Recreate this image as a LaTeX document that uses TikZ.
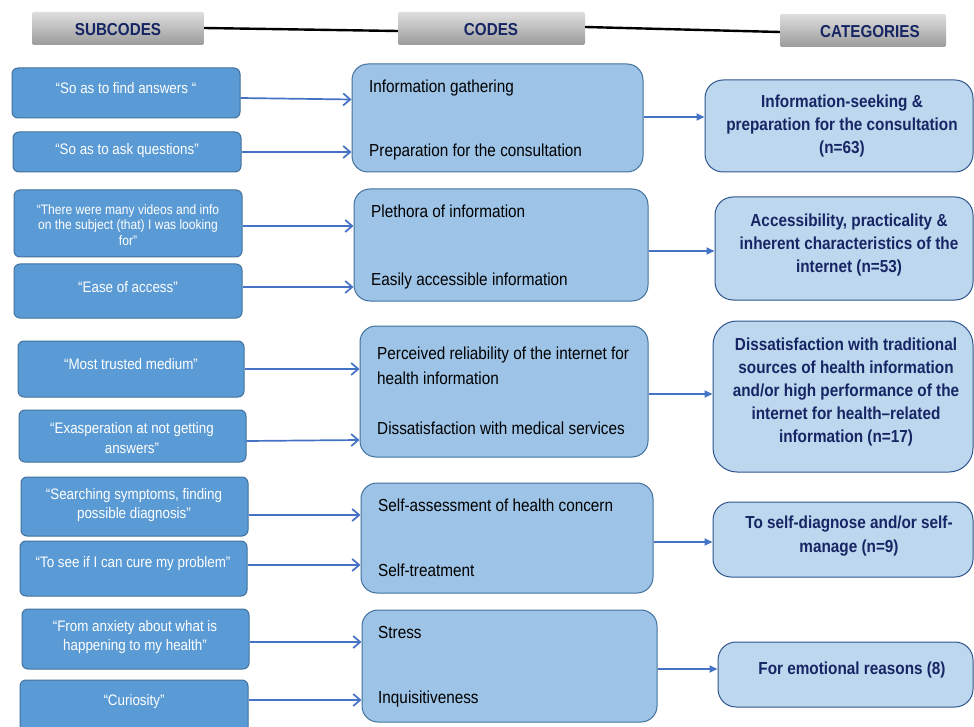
\documentclass[tikz,border=0pt]{standalone}
\usepackage{fontspec}
\setmainfont{Liberation Sans}[FakeStretch=0.88]
\usetikzlibrary{arrows.meta,fit}

\definecolor{subfill}{RGB}{91,155,213}
\definecolor{subline}{RGB}{65,113,156}
\definecolor{codefill}{RGB}{157,195,230}
\definecolor{catfill}{RGB}{189,215,238}
\definecolor{catline}{RGB}{47,85,140}
\definecolor{arrblue}{RGB}{68,114,196}
\definecolor{navy}{RGB}{22,38,100}
\definecolor{hdrtop}{RGB}{222,222,222}
\definecolor{hdrbot}{RGB}{155,155,155}

\begin{document}
\begin{tikzpicture}[x=1pt,y=-1pt,
  subbox/.style={draw=subline, fill=subfill, rounded corners=6pt, line width=1pt, inner sep=0pt},
  codebox/.style={draw=subline, fill=codefill, rounded corners=16pt, line width=1pt, inner sep=0pt},
  catbox/.style={draw=catline, fill=catfill, rounded corners=18pt, line width=1pt, inner sep=0pt},
  subtxt/.style={text=white, align=center, font=\fontsize{15.2}{19.5}\selectfont, inner sep=0pt},
  codetxt/.style={anchor=base west, font=\fontsize{17.4}{20}\selectfont, inner sep=0pt},
  cattxt/.style={text=navy, align=center, font=\bfseries\fontsize{17.4}{23.2}\selectfont, inner sep=0pt},
  hdr/.style={top color=hdrtop, bottom color=hdrbot, rounded corners=2pt, inner sep=0pt},
  hdrtxt/.style={text=navy, font=\bfseries\fontsize{17.3}{17}\selectfont, inner sep=0pt},
  subarr/.style={draw=arrblue, line width=1.7pt, -{Straight Barb[length=7pt,width=12pt]}},
  catarr/.style={draw=arrblue, line width=1.7pt, -{Triangle[length=8pt,width=7pt]}}
]
\useasboundingbox (0,0) rectangle (974,727);
\fill[white] (0,0) rectangle (974,727);
\clip (0,0) rectangle (974,727);

% ---- column headers ----
\node[hdr, fit={(32,12) (204,45)}] (h1) {};
\node[hdr, fit={(398,12) (585,45)}] (h2) {};
\node[hdr, fit={(780,14) (946,47)}] (h3) {};
\node[hdrtxt] (h1t) at (118,30) {SUBCODES};
\node[hdrtxt] (h2t) at (491,30) {CODES};
\node[hdrtxt] (h3t) at (870,32) {CATEGORIES};
\draw[line width=2.4pt] (h1.east |- 0,28) -- (h2.west |- 0,31);
\draw[line width=2.4pt] (h2.east |- 0,27) -- (h3.west |- 0,32);

% ---- subcodes ----
\node[subbox, fit={(12,68) (240,118)}] (s1) {};
\node[subbox, fit={(13,132) (241,172)}] (s2) {};
\node[subbox, fit={(14,190) (242,257)}] (s3) {};
\node[subbox, fit={(14,264) (242,318)}] (s4) {};
\node[subbox, fit={(18,341) (244,397)}] (s5) {};
\node[subbox, fit={(19,410) (246,462)}] (s6) {};
\node[subbox, fit={(21,477) (248,536)}] (s7) {};
\node[subbox, fit={(20,541) (247,596)}] (s8) {};
\node[subbox, fit={(22,609) (249,669)}] (s9) {};
\node[subbox, fit={(20,680) (248,745)}] (s10) {};

\node[subtxt] (s1t) at (126,88) {“So as to find answers “};
\node[subtxt] (s2t) at (127,151) {“So as to ask questions”};
\node[subtxt, font=\fontsize{13.7}{15.8}\selectfont] (s3t) at (128,225) {“There were many videos and info\\on the subject (that) I was looking\\for”};
\node[subtxt] (s4t) at (128,287) {“Ease of access”};
\node[subtxt] (s5t) at (131,364) {“Most trusted medium”};
\node[subtxt] (s6t) at (132,438) {“Exasperation at not getting\\answers”};
\node[subtxt] (s7t) at (134,505) {“Searching symptoms, finding\\possible diagnosis”};
\node[subtxt] (s8t) at (133,564) {“To see if I can cure my problem”};
\node[subtxt] (s9t) at (135,637) {“From anxiety about what is\\happening to my health”};
\node[subtxt] (s10t) at (134,702) {“Curiosity”};

% ---- codes ----
\node[codebox, fit={(352,64) (643,172)}] (c1) {};
\node[codebox, fit={(354,189) (648,301)}] (c2) {};
\node[codebox, fit={(360,326) (648,457)}] (c3) {};
\node[codebox, fit={(361,483) (653,593)}] (c4) {};
\node[codebox, fit={(362,610) (657,722)}] (c5) {};

\node[codetxt] (c1a) at (369,93) {Information gathering};
\node[codetxt] (c1b) at (369,157) {Preparation for the consultation};
\node[codetxt] (c2a) at (371,218) {Plethora of information};
\node[codetxt] (c2b) at (371,286) {Easily accessible information};
\node[codetxt] (c3a) at (377,359) {Perceived reliability of the internet for};
\node[codetxt] (c3b) at (377,384) {health information};
\node[codetxt] (c3c) at (377,434) {Dissatisfaction with medical services};
\node[codetxt] (c4a) at (378,511) {Self-assessment of health concern};
\node[codetxt] (c4b) at (378,576) {Self-treatment};
\node[codetxt] (c5a) at (378,638) {Stress};
\node[codetxt] (c5b) at (378,703) {Inquisitiveness};

% ---- categories ----
\node[catbox, fit={(705,80) (973,172)}] (k1) {};
\node[catbox, fit={(715,197) (973,300)}] (k2) {};
\node[catbox, rounded corners=24pt, fit={(713,321) (973,472)}] (k3) {};
\node[catbox, fit={(713,502) (973,577)}] (k4) {};
\node[catbox, fit={(718,642) (973,707)}] (k5) {};

\node[cattxt] (k1t) at (842,126) {Information-seeking \&\\preparation for the consultation\\(n=63)};
\node[cattxt] (k2t) at (849,245) {Accessibility, practicality \&\\inherent characteristics of the\\internet (n=53)};
\node[cattxt] (k3t) at (846,392) {Dissatisfaction with traditional\\sources of health information\\and/or high performance of the\\internet for health–related\\information (n=17)};
\node[cattxt] (k4t) at (849,536) {To self-diagnose and/or self-\\manage (n=9)};
\node[cattxt] (k5t) at (852,670) {For emotional reasons (8)};

% ---- subcode -> code connectors ----
\draw[subarr] (s1.east |- 0,98) -- (c1.west |- 0,99.5);
\draw[subarr] (s2.east |- 0,152) -- (c1.west |- 0,152);
\draw[subarr] (s3.east |- 0,226) -- (c2.west |- 0,226);
\draw[subarr] (s4.east |- 0,287) -- (c2.west |- 0,287);
\draw[subarr] (s5.east |- 0,369) -- (c3.west |- 0,369);
\draw[subarr] (s6.east |- 0,441) -- (c3.west |- 0,440);
\draw[subarr] (s7.east |- 0,515) -- (c4.west |- 0,515);
\draw[subarr] (s8.east |- 0,565) -- (c4.west |- 0,565);
\draw[subarr] (s9.east |- 0,642) -- (c5.west |- 0,642);
\draw[subarr] (s10.east |- 0,700) -- (c5.west |- 0,700);

% ---- code -> category connectors ----
\draw[catarr] (c1.east |- 0,117) -- (k1.west |- 0,117);
\draw[catarr] (c2.east |- 0,251) -- (k2.west |- 0,251);
\draw[catarr] (c3.east |- 0,394) -- (k3.west |- 0,394);
\draw[catarr] (c4.east |- 0,542) -- (k4.west |- 0,542);
\draw[catarr] (c5.east |- 0,669) -- (k5.west |- 0,669);
\end{tikzpicture}
\end{document}
